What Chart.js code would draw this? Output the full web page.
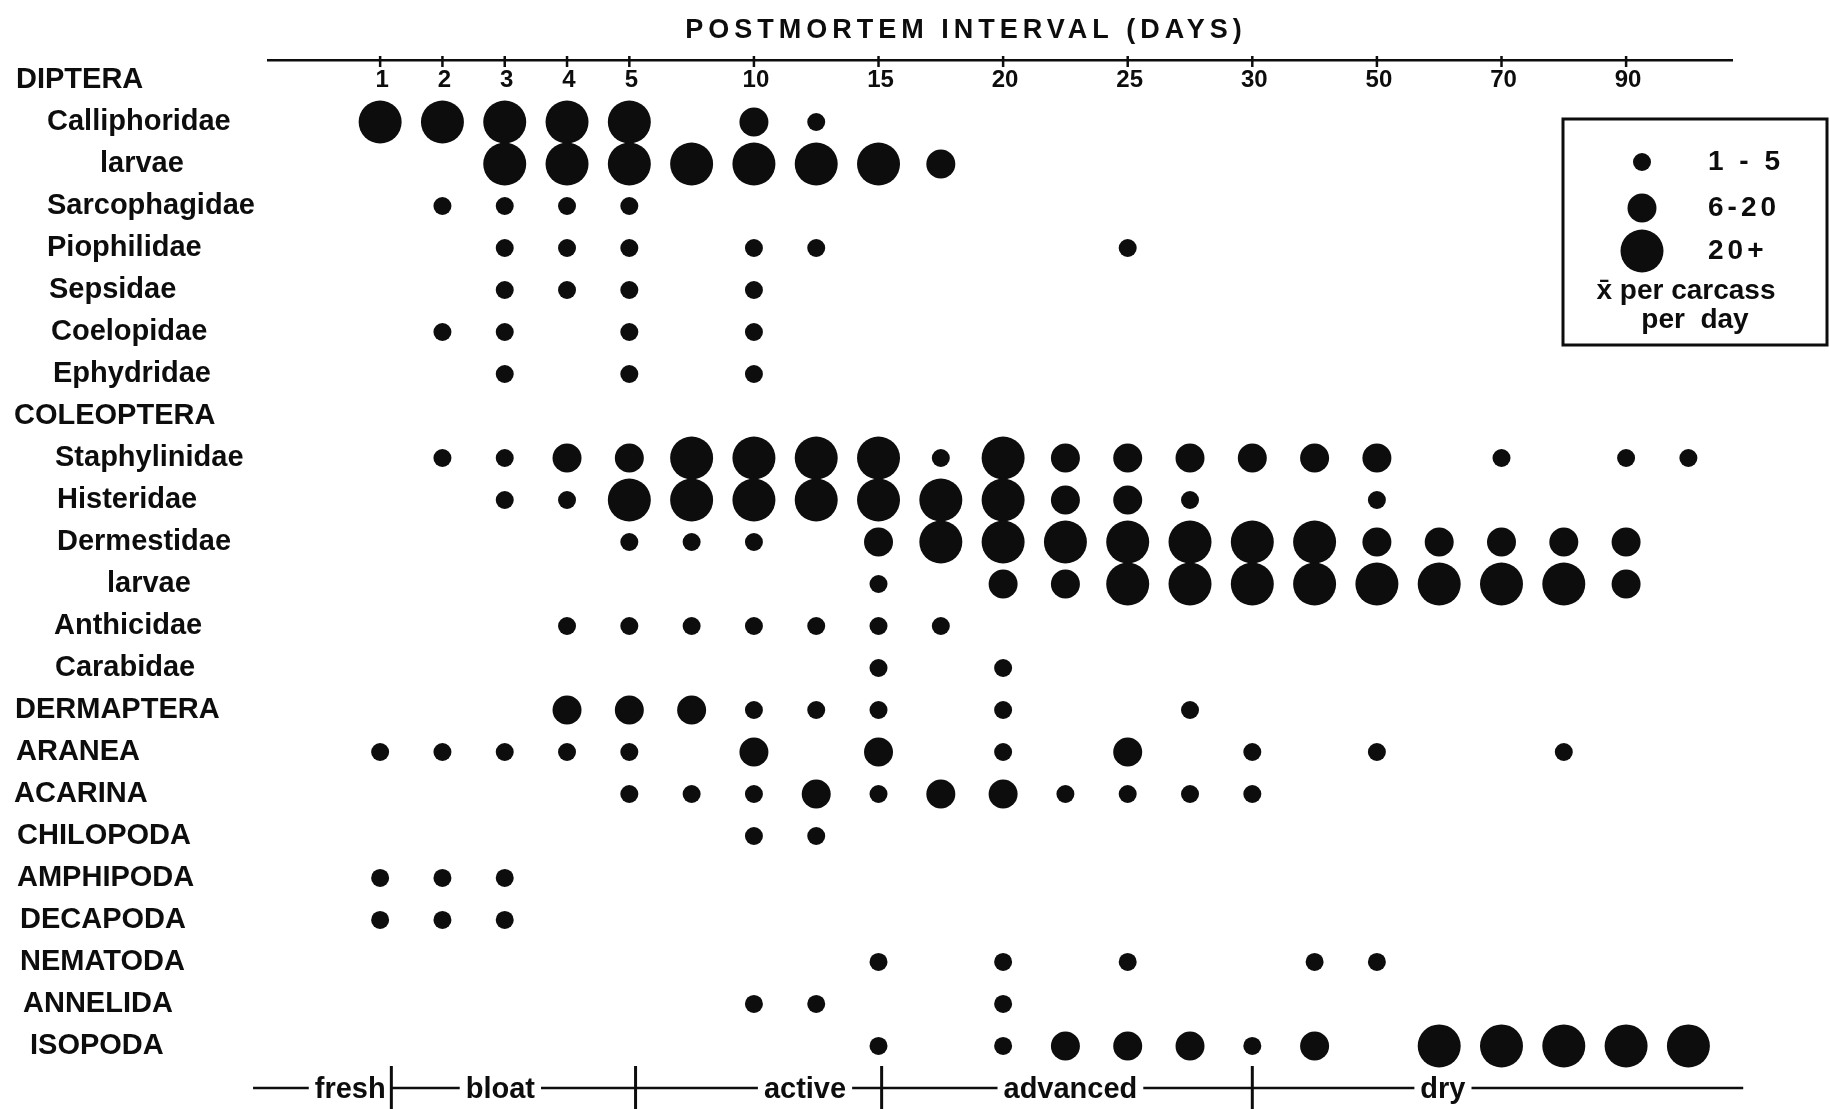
<!DOCTYPE html>
<html>
<head>
<meta charset="utf-8">
<title>Postmortem interval</title>
<script src="https://cdn.jsdelivr.net/npm/chart.js@4.4.1/dist/chart.umd.min.js"></script>
<style>
  html, body { margin: 0; padding: 0; background: #fff; overflow: hidden; }
  canvas { display: block; }
</style>
</head>
<body>
<canvas id="chart" width="1830" height="1109"></canvas>
<script>
// ── Data ──────────────────────────────────────────────────────
// one entry per sampling column, '' = unlabelled column between days
const COLUMN_DAYS = ['1', '2', '3', '4', '5', '', '10', '', '15', '', '20', '', '25', '', '30', '', '50', '', '70', '', '90', ''];

const TAXA = [
  'DIPTERA', 'Calliphoridae', 'larvae', 'Sarcophagidae', 'Piophilidae', 'Sepsidae', 'Coelopidae', 'Ephydridae',
  'COLEOPTERA', 'Staphylinidae', 'Histeridae', 'Dermestidae', 'larvae', 'Anthicidae', 'Carabidae',
  'DERMAPTERA', 'ARANEA', 'ACARINA', 'CHILOPODA', 'AMPHIPODA', 'DECAPODA', 'NEMATODA', 'ANNELIDA', 'ISOPODA',
];

// abundance class per column: 0 none, 1 = 1-5, 2 = 6-20, 3 = 20+
const calliphoridae     = [3, 3, 3, 3, 3, 0, 2, 1, 0, 0, 0, 0, 0, 0, 0, 0, 0, 0, 0, 0, 0, 0];
const calliphoridLarvae = [0, 0, 3, 3, 3, 3, 3, 3, 3, 2, 0, 0, 0, 0, 0, 0, 0, 0, 0, 0, 0, 0];
const sarcophagidae     = [0, 1, 1, 1, 1, 0, 0, 0, 0, 0, 0, 0, 0, 0, 0, 0, 0, 0, 0, 0, 0, 0];
const piophilidae       = [0, 0, 1, 1, 1, 0, 1, 1, 0, 0, 0, 0, 1, 0, 0, 0, 0, 0, 0, 0, 0, 0];
const sepsidae          = [0, 0, 1, 1, 1, 0, 1, 0, 0, 0, 0, 0, 0, 0, 0, 0, 0, 0, 0, 0, 0, 0];
const coelopidae        = [0, 1, 1, 0, 1, 0, 1, 0, 0, 0, 0, 0, 0, 0, 0, 0, 0, 0, 0, 0, 0, 0];
const ephydridae        = [0, 0, 1, 0, 1, 0, 1, 0, 0, 0, 0, 0, 0, 0, 0, 0, 0, 0, 0, 0, 0, 0];
const staphylinidae     = [0, 1, 1, 2, 2, 3, 3, 3, 3, 1, 3, 2, 2, 2, 2, 2, 2, 0, 1, 0, 1, 1];
const histeridae        = [0, 0, 1, 1, 3, 3, 3, 3, 3, 3, 3, 2, 2, 1, 0, 0, 1, 0, 0, 0, 0, 0];
const dermestidae       = [0, 0, 0, 0, 1, 1, 1, 0, 2, 3, 3, 3, 3, 3, 3, 3, 2, 2, 2, 2, 2, 0];
const dermestidLarvae   = [0, 0, 0, 0, 0, 0, 0, 0, 1, 0, 2, 2, 3, 3, 3, 3, 3, 3, 3, 3, 2, 0];
const anthicidae        = [0, 0, 0, 1, 1, 1, 1, 1, 1, 1, 0, 0, 0, 0, 0, 0, 0, 0, 0, 0, 0, 0];
const carabidae         = [0, 0, 0, 0, 0, 0, 0, 0, 1, 0, 1, 0, 0, 0, 0, 0, 0, 0, 0, 0, 0, 0];
const dermaptera        = [0, 0, 0, 2, 2, 2, 1, 1, 1, 0, 1, 0, 0, 1, 0, 0, 0, 0, 0, 0, 0, 0];
const aranea            = [1, 1, 1, 1, 1, 0, 2, 0, 2, 0, 1, 0, 2, 0, 1, 0, 1, 0, 0, 1, 0, 0];
const acarina           = [0, 0, 0, 0, 1, 1, 1, 2, 1, 2, 2, 1, 1, 1, 1, 0, 0, 0, 0, 0, 0, 0];
const chilopoda         = [0, 0, 0, 0, 0, 0, 1, 1, 0, 0, 0, 0, 0, 0, 0, 0, 0, 0, 0, 0, 0, 0];
const amphipoda         = [1, 1, 1, 0, 0, 0, 0, 0, 0, 0, 0, 0, 0, 0, 0, 0, 0, 0, 0, 0, 0, 0];
const decapoda          = [1, 1, 1, 0, 0, 0, 0, 0, 0, 0, 0, 0, 0, 0, 0, 0, 0, 0, 0, 0, 0, 0];
const nematoda          = [0, 0, 0, 0, 0, 0, 0, 0, 1, 0, 1, 0, 1, 0, 0, 1, 1, 0, 0, 0, 0, 0];
const annelida          = [0, 0, 0, 0, 0, 0, 1, 1, 0, 0, 1, 0, 0, 0, 0, 0, 0, 0, 0, 0, 0, 0];
const isopoda           = [0, 0, 0, 0, 0, 0, 0, 0, 1, 0, 1, 2, 2, 2, 1, 2, 0, 3, 3, 3, 3, 3];

// same order as TAXA, null for order headings without dots
const ROWS = [
  null, calliphoridae, calliphoridLarvae, sarcophagidae, piophilidae, sepsidae, coelopidae, ephydridae,
  null, staphylinidae, histeridae, dermestidae, dermestidLarvae, anthicidae, carabidae,
  dermaptera, aranea, acarina, chilopoda, amphipoda, decapoda, nematoda, annelida, isopoda,
];

const SIZE_LABELS   = ['1 - 5', '6-20', '20+'];
const PHASES        = ['fresh', 'bloat', 'active', 'advanced', 'dry'];
const PHASE_BREAKS  = [0.18, 4.1, 8.05, 14];          // in column units
const PHASE_TEXT_AT = [-0.48, 1.93, 6.82, 11.08, 17.06];

// ── Layout / style ────────────────────────────────────────────
const INK    = '#0d0d0d';
const FONT   = '"Liberation Sans", Arial, sans-serif';
const RADIUS = [0, 9, 14.5, 21.5];
const LABEL_X = [16, 47, 100, 47, 47, 49, 51, 53, 14, 55, 57, 57, 107, 54, 55, 15, 16, 14, 17, 17, 20, 20, 23, 30];
const PHASE_ROW = 24;

const points = [];
ROWS.forEach((row, r) => {
  if (!row) return;
  row.forEach((v, c) => { if (v) points.push({ x: c, y: r, v }); });
});

// ── Extra drawing: title, ticks, row labels, phases, legend ───
const annotate = {
  id: 'annotate',
  afterDraw(chart) {
    const { ctx, scales: { x, y } } = chart;
    const axisY = x.bottom;
    ctx.save();
    ctx.fillStyle = INK;
    ctx.strokeStyle = INK;

    // title
    ctx.font = `bold 27px ${FONT}`;
    ctx.letterSpacing = '5px';
    ctx.textAlign = 'center';
    ctx.textBaseline = 'middle';
    ctx.fillText('POSTMORTEM INTERVAL (DAYS)', 966, 31);
    ctx.letterSpacing = '0px';

    // tick marks crossing the axis line + day labels, from the scale's ticks
    ctx.lineWidth = 2.5;
    ctx.font = `bold 24px ${FONT}`;
    x.ticks.forEach(t => {
      const px = x.getPixelForValue(t.value);
      ctx.beginPath();
      ctx.moveTo(px, axisY - 4);
      ctx.lineTo(px, axisY + 7);
      ctx.stroke();
      ctx.fillText(t.label ?? COLUMN_DAYS[t.value], px + 2, y.getPixelForValue(0));
    });

    // row labels
    ctx.font = `bold 29px ${FONT}`;
    ctx.textAlign = 'left';
    TAXA.forEach((name, i) => {
      ctx.fillText(name, LABEL_X[i], y.getPixelForValue(i));
    });

    // decomposition phases
    const yBar = y.getPixelForValue(PHASE_ROW);
    ctx.lineWidth = 2.5;
    ctx.beginPath();
    ctx.moveTo(x.getPixelForValue(-2.04), yBar);
    ctx.lineTo(x.getPixelForValue(21.88), yBar);
    ctx.stroke();
    ctx.font = `bold 29px ${FONT}`;
    ctx.textAlign = 'center';
    ctx.textBaseline = 'alphabetic';
    PHASES.forEach((p, i) => {
      const cx = x.getPixelForValue(PHASE_TEXT_AT[i]);
      const w = ctx.measureText(p).width;
      ctx.fillStyle = '#fff';
      ctx.fillRect(cx - w / 2 - 6, yBar - 6, w + 12, 12);
      ctx.fillStyle = INK;
      ctx.fillText(p, cx, yBar + 10);
    });
    ctx.lineWidth = 3;
    PHASE_BREAKS.forEach(b => {
      const bx = x.getPixelForValue(b);
      ctx.beginPath();
      ctx.moveTo(bx, yBar - 22);
      ctx.lineTo(bx, yBar + 22);
      ctx.stroke();
    });

    // legend box
    ctx.lineWidth = 3;
    ctx.strokeRect(1563, 119, 264, 226);
    const legendY = [162, 208, 251];
    SIZE_LABELS.forEach((lab, i) => {
      ctx.beginPath();
      ctx.arc(1642, legendY[i], RADIUS[i + 1], 0, Math.PI * 2);
      ctx.fill();
      ctx.font = `bold 28px ${FONT}`;
      ctx.letterSpacing = '4px';
      ctx.textAlign = 'left';
      ctx.textBaseline = 'middle';
      ctx.fillText(lab, 1708, legendY[i]);
      ctx.letterSpacing = '0px';
    });
    ctx.font = `bold 28px ${FONT}`;
    ctx.textAlign = 'center';
    ctx.fillText('x\u0304 per carcass', 1686, 291);
    ctx.fillText('per  day', 1695, 320);

    ctx.restore();
  },
};

// ── Chart ─────────────────────────────────────────────────────
new Chart(document.getElementById('chart'), {
  type: 'scatter',
  data: {
    datasets: [{
      data: points,
      pointRadius: c => RADIUS[c.raw.v],
      pointHoverRadius: c => RADIUS[c.raw.v],
      backgroundColor: INK,
      borderWidth: 0,
      clip: false,
    }],
  },
  options: {
    responsive: false,
    animation: false,
    events: [],
    layout: { autoPadding: false, padding: { left: 268, right: 98, top: 0, bottom: 9 } },
    plugins: { legend: { display: false }, tooltip: { enabled: false } },
    scales: {
      x: {
        type: 'linear',
        position: 'top',
        min: -1.8,
        max: 21.7,
        afterBuildTicks: s => {
          s.ticks = COLUMN_DAYS.map((d, i) => (d ? { value: i } : null)).filter(Boolean);
        },
        afterFit: s => { s.height = 60; },
        grid: { drawOnChartArea: false, drawTicks: false },
        border: { display: true, color: INK, width: 2.5 },
        ticks: { display: false, autoSkip: false, callback: v => COLUMN_DAYS[v] },
      },
      y: { type: 'linear', reverse: true, min: -0.476, max: 24.286, display: false },
    },
  },
  plugins: [annotate],
});
</script>
</body>
</html>
